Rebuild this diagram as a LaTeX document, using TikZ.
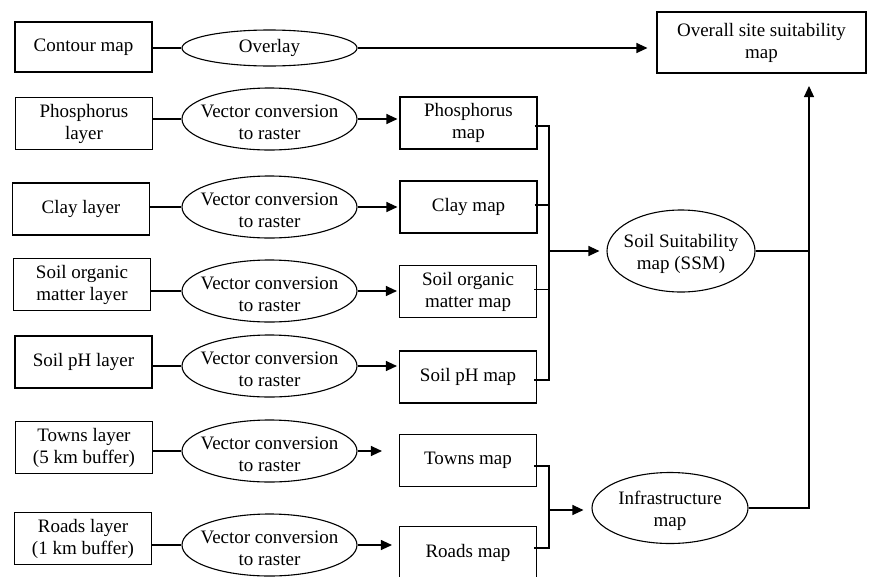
\documentclass[tikz,border=0pt]{standalone}
\usepackage{fontspec}
\setmainfont{Liberation Serif}
\usetikzlibrary{shapes.geometric,arrows.meta,calc}
\begin{document}
\begin{tikzpicture}[x=1pt,y=-1pt, line width=1.1pt, font=\fontsize{19}{22}\selectfont,
  box/.style={draw, rectangle, minimum width=137pt, minimum height=52pt, inner sep=0pt, align=center},
  proc/.style={draw, ellipse, minimum width=175pt, minimum height=62pt, inner sep=0pt},
  ptxt/.style={align=center, yshift=-3pt},
  arr/.style={-{Triangle[length=11pt,width=10pt]}},
]
\useasboundingbox (0,0) rectangle (869,576);
\clip (0,0) rectangle (869,576);

% top row
\node[box, minimum height=50pt] (contour) at (83.5,47) {Contour map};
\node[proc, minimum height=36pt, label={[align=center]center:Overlay}] (overlay) at (269.5,48) {};
\node[box, minimum width=209pt, minimum height=61pt] (overall) at (761.5,42.5) {Overall site suitability\\map};

% layers
\node[box] (l1) at (84,123.5) {Phosphorus\\layer};
\node[box] (l2) at (81,209) {Clay layer};
\node[box] (l3) at (82,284.5) {Soil organic\\matter layer};
\node[box] (l4) at (83.5,362) {Soil pH layer};
\node[box] (l5) at (84,447.5) {Towns layer\\(5 km buffer)};
\node[box] (l6) at (83,538.5) {Roads layer\\(1 km buffer)};

% conversion ellipses
\node[proc, label={[ptxt]center:Vector conversion\\to raster}] (e1) at (269.5,119) {};
\node[proc, label={[ptxt]center:Vector conversion\\to raster}] (e2) at (269.5,207) {};
\node[proc, label={[ptxt]center:Vector conversion\\to raster}] (e3) at (269.5,291) {};
\node[proc, label={[ptxt]center:Vector conversion\\to raster}] (e4) at (269.5,366) {};
\node[proc, label={[ptxt]center:Vector conversion\\to raster}] (e5) at (269.5,451) {};
\node[proc, label={[ptxt]center:Vector conversion\\to raster}] (e6) at (269.5,545) {};

% maps
\node[box] (m1) at (468.5,123) {Phosphorus\\map};
\node[box] (m2) at (468.5,207) {Clay map};
\node[box] (m3) at (468,291.5) {Soil organic\\matter map};
\node[box] (m4) at (468,377) {Soil pH map};
\node[box] (m5) at (468,460.5) {Towns map};
\node[box] (m6) at (468,552.5) {Roads map};

% results
\node[proc, minimum width=148pt, minimum height=82pt, label={[ptxt]center:Soil Suitability\\map (SSM)}] (ssm) at (681,251) {};
\node[proc, minimum width=156pt, minimum height=71pt, label={[ptxt]center:Infrastructure\\map}] (infra) at (670,508) {};

\coordinate (j1) at (549,251);
\coordinate (j2) at (549,510);
\coordinate (j3) at (809,251);
\coordinate (j4) at (809,86);

% top row connectors
\draw (overlay.west -| contour.east) -- (overlay.west);
\draw[arr, shorten >=9pt] (overlay.east) -- (overlay.east -| overall.west);

% layer to ellipse
\foreach \i in {1,...,6} {
  \draw (e\i.west -| l\i.east) -- (e\i.west);
}
% ellipse to map
\foreach \i in {1,2,3,4} {
  \draw[arr, shorten >=2pt] (e\i.east) -- (e\i.east -| m\i.west);
}
\draw[arr, shorten >=17pt] (e5.east) -- (e5.east -| m5.west);
\draw[arr, shorten >=7pt] (e6.east) -- (e6.east -| m6.west);

% soil maps to SSM
\draw ($(m1.east)+(-3,3)$) -| ($(m4.east -| j1)+(0,3)$) -- ($(m4.east)+(-3,3)$);
\draw ($(m2.east)+(-3,-2)$) -- ($(m2.east -| j1)+(0,-2)$);
\draw ($(m3.east)+(-3,-2)$) -- ($(m3.east -| j1)+(0,-2)$);
\draw[arr, shorten >=7pt] (j1) -- (ssm.west);

% infrastructure
\draw ($(m5.east)+(-3,5.5)$) -| ($(m6.east -| j2)+(0,-4.5)$) -- ($(m6.east)+(-3,-4.5)$);
\draw[arr, shorten >=8pt] (j2) -- (j2 -| infra.west);

% to overall
\draw (ssm.east) -- (j3);
\draw[arr] (infra.east) -| (j4);
\end{tikzpicture}
\end{document}
